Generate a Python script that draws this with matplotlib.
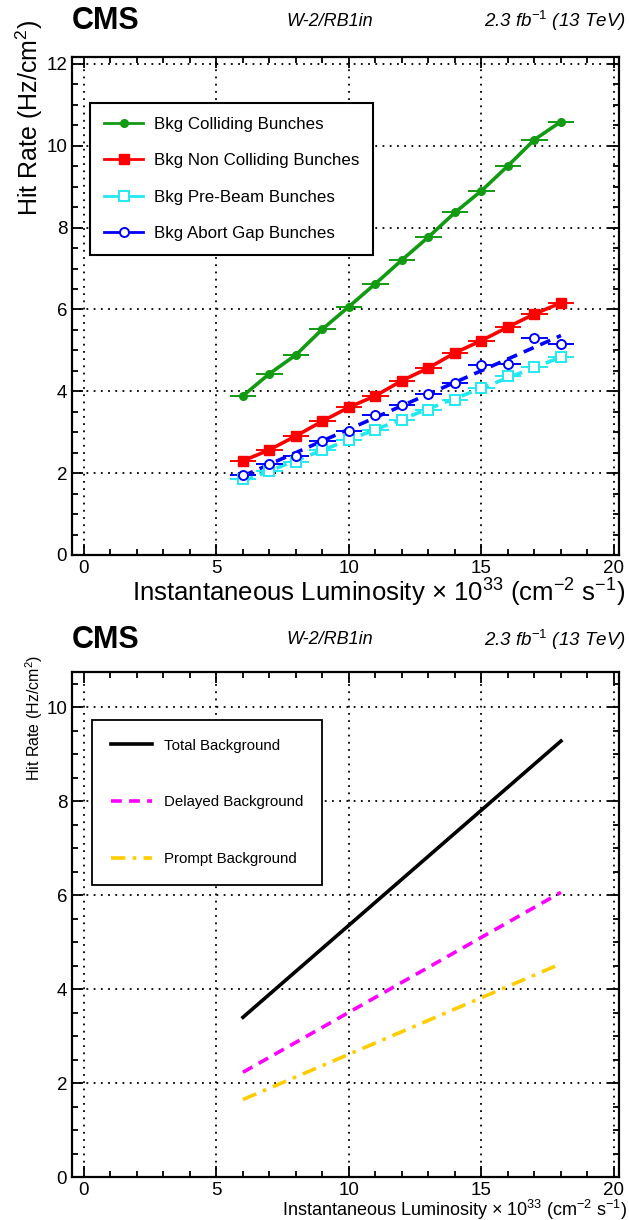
import numpy as np
import matplotlib
matplotlib.use('Agg')
import matplotlib.pyplot as plt
from matplotlib.lines import Line2D
from matplotlib.ticker import MultipleLocator

plt.rcParams['font.family'] = ['Liberation Sans', 'DejaVu Sans']
plt.rcParams['mathtext.fontset'] = 'custom'
plt.rcParams['mathtext.rm'] = 'Liberation Sans'
plt.rcParams['mathtext.it'] = 'Liberation Sans:italic'

# Dados do painel superior (taxa de hits por luminosidade)
lumi = [6, 7, 8, 9, 10, 11, 12, 13, 14, 15, 16, 17, 18]
colliding = [3.89, 4.43, 4.89, 5.52, 6.07, 6.63, 7.21, 7.77, 8.37, 8.90, 9.51, 10.15, 10.59]
non_colliding = [2.30, 2.57, 2.91, 3.27, 3.61, 3.89, 4.26, 4.57, 4.94, 5.24, 5.57, 5.89, 6.16]
pre_beam = [1.86, 2.05, 2.27, 2.57, 2.81, 3.06, 3.30, 3.55, 3.78, 4.08, 4.37, 4.60, 4.84]
abort_gap = [1.96, 2.22, 2.41, 2.78, 3.03, 3.42, 3.67, 3.94, 4.21, 4.64, 4.66, 5.30, 5.16]
abort_gap_err = [0.03, 0.03, 0.03, 0.04, 0.04, 0.04, 0.05, 0.05, 0.05, 0.06, 0.07, 0.10, 0.12]
lumi_err = [0.5] * 13

# Dados do painel inferior (linhas de background)
lumi_bkg = [6, 18]
total_bkg = [3.40, 9.28]
delayed_bkg = [2.23, 6.06]
prompt_bkg = [1.65, 4.54]

green = '#129a12'
red = '#ff0000'
cyan = '#22e8f0'
blue = '#0000ff'

fig = plt.figure(figsize=(6.29, 12.2), dpi=100)
ax1 = fig.add_axes([0.1145, 0.5451, 0.870, 0.4082])
ax2 = fig.add_axes([0.1145, 0.0352, 0.870, 0.4140])


def estilo(ax, ymax):
    ax.set_xlim(-0.45, 20.2)
    ax.set_ylim(0, ymax)
    ax.xaxis.set_major_locator(MultipleLocator(5))
    ax.xaxis.set_minor_locator(MultipleLocator(1))
    ax.yaxis.set_major_locator(MultipleLocator(2))
    ax.yaxis.set_minor_locator(MultipleLocator(0.5))
    ax.tick_params(which='both', direction='in', top=True, right=True, width=1.3)
    ax.tick_params(which='major', length=8, labelsize=13.5)
    ax.tick_params(which='minor', length=4.5)
    ax.grid(True, which='major', color='black', linestyle=(0, (1, 3)), linewidth=1.3)
    for s in ax.spines.values():
        s.set_linewidth(1.6)


# Painel superior
estilo(ax1, 12.17)
x = np.array(lumi)
ax1.plot(lumi, colliding, color=green, lw=2.6, marker='o', ms=5.5, zorder=4)
ax1.errorbar(lumi, colliding, xerr=lumi_err, fmt='none', ecolor=green, elinewidth=1.4, zorder=4)
ax1.plot(lumi, non_colliding, color=red, lw=2.6, marker='s', ms=6.5, zorder=4)
ax1.errorbar(lumi, non_colliding, xerr=lumi_err, fmt='none', ecolor=red, elinewidth=1.4, zorder=4)

# Ajustes lineares (tracejados) para pre-beam e abort gap
p_pre = np.polyfit(x, pre_beam, 1)
p_abort = np.polyfit(x, abort_gap, 1)
xf = np.array([lumi[0], lumi[-1]])
ax1.plot(xf, np.polyval(p_pre, xf), color=cyan, lw=2.6, ls=(0, (3, 2)), zorder=3)
ax1.plot(xf, np.polyval(p_abort, xf), color=blue, lw=2.6, ls=(0, (3, 2)), zorder=3)
ax1.errorbar(lumi, pre_beam, xerr=lumi_err, fmt='s', mfc='white', mec=cyan, mew=1.4, ms=6.5,
             ecolor=cyan, elinewidth=1.4, zorder=5)
ax1.errorbar(lumi, abort_gap, xerr=lumi_err, yerr=abort_gap_err, fmt='o', mfc='white', mec=blue,
             mew=1.4, ms=6.5, ecolor=blue, elinewidth=1.4, zorder=5)

handles1 = [
    Line2D([], [], color=green, lw=2, marker='o', ms=5.5),
    Line2D([], [], color=red, lw=2, marker='s', ms=6.5),
    Line2D([], [], color=cyan, lw=2, marker='s', ms=6.5, mfc='white', mew=1.4),
    Line2D([], [], color=blue, lw=2, marker='o', ms=6.5, mfc='white', mew=1.4),
]
labels1 = ['Bkg Colliding Bunches', 'Bkg Non Colliding Bunches',
           'Bkg Pre-Beam Bunches', 'Bkg Abort Gap Bunches']
leg1 = ax1.legend(handles1, labels1, loc='upper left', bbox_to_anchor=(0.033, 0.908),
                  fontsize=12.2, frameon=True, fancybox=False, edgecolor='black',
                  handlelength=2.3, labelspacing=1.25, borderpad=0.85, handletextpad=0.6,
                  borderaxespad=0)
leg1.get_frame().set_linewidth(1.5)
leg1.get_frame().set_alpha(1)

# Painel inferior
estilo(ax2, 10.75)
ax2.plot(lumi_bkg, total_bkg, color='black', lw=2.6, label='Total Background')
ax2.plot(lumi_bkg, delayed_bkg, color='#ff00ff', lw=2.6, ls=(0, (3, 2)), label='Delayed Background')
ax2.plot(lumi_bkg, prompt_bkg, color='#ffcc00', lw=2.6, ls=(0, (4, 2, 1, 2)), label='Prompt Background')
leg2 = ax2.legend(loc='upper left', bbox_to_anchor=(0.037, 0.905), fontsize=10.8, frameon=True,
                  fancybox=False, edgecolor='black', handlelength=2.7, labelspacing=2.85,
                  borderpad=1.25, handletextpad=0.8, borderaxespad=0)
leg2.get_frame().set_linewidth(1.3)
leg2.get_frame().set_alpha(1)

# Textos
xlab = r'Instantaneous Luminosity $\times$ 10$^{33}$ (cm$^{-2}$ s$^{-1}$)'
fig.text(0.994, 1 - 593 / 1220, xlab, ha='right', va='center', fontsize=18.5)
fig.text(0.997, 1 - 1210 / 1220, xlab, ha='right', va='center', fontsize=13)
fig.text(29 / 629, 1 - 20 / 1220, r'Hit Rate (Hz/cm$^2$)', rotation=90, ha='center', va='top', fontsize=18)
fig.text(34 / 629, 1 - 655 / 1220, r'Hit Rate (Hz/cm$^2$)', rotation=90, ha='center', va='top', fontsize=11.5)

for ytop in [21, 640]:
    fig.text(72 / 629, 1 - ytop / 1220, 'CMS', fontsize=22, fontweight='bold', ha='left', va='center')
    fig.text(330 / 629, 1 - ytop / 1220, 'W-2/RB1in', fontsize=13, style='italic', ha='center', va='center')
    fig.text(0.994, 1 - ytop / 1220, r'2.3 fb$^{-1}$ (13 TeV)', fontsize=13.5, style='italic',
             ha='right', va='center')

fig.savefig('out.png', dpi=100)
